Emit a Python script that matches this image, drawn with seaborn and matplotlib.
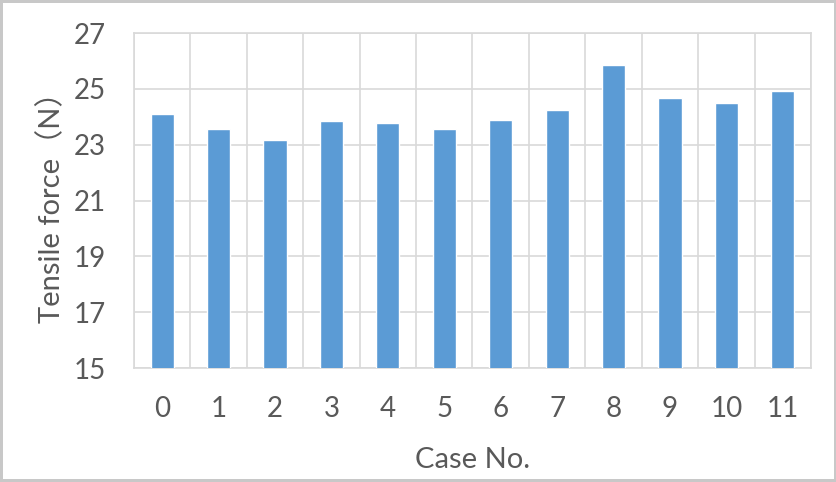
import seaborn as sns
import matplotlib.pyplot as plt
import pandas as pd
import numpy as np
from matplotlib.ticker import FixedLocator

# values
cases = [str(i) for i in range(12)]
force = [24.1, 23.56, 23.17, 23.85, 23.78, 23.57, 23.9, 24.24, 25.85, 24.68, 24.49, 24.92]
yticks = [15, 17, 19, 21, 23, 25, 27]

df = pd.DataFrame({"Case": cases, "Force": force})

sns.set_style("white")
plt.rcParams['font.family'] = ['Lato', 'Noto Sans CJK SC', 'DejaVu Sans']
txt = '#595959'
grid = '#d9d9d9'

fig = plt.figure(figsize=(8.37, 4.82), dpi=100, edgecolor='#c8c8c8', linewidth=3)
ax = fig.add_axes([0.160, 0.2365, 0.809, 0.695])

sns.barplot(x='Case', y='Force', data=df, color='#5b9bd5', width=0.41,
            saturation=1, ax=ax, zorder=3)

ax.set_ylim(15, 27)
ax.set_xlim(-0.5, len(cases) - 0.5)
ax.set_yticks(yticks)
ax.xaxis.set_minor_locator(FixedLocator(np.arange(-0.5, len(cases), 1)))
ax.grid(True, axis='y', which='major', color=grid, lw=1.2, zorder=0)
ax.grid(True, axis='x', which='minor', color=grid, lw=1.2, zorder=0)
ax.grid(False, axis='x', which='major')
ax.set_axisbelow(True)
for s in ax.spines.values():
    s.set_color(grid)
    s.set_linewidth(1.2)

ax.tick_params(axis='both', which='both', length=0, labelsize=20, labelcolor=txt)
ax.tick_params(axis='x', pad=20)
ax.tick_params(axis='y', pad=20)

ax.set_xlabel('Case No.', fontsize=21, color=txt, labelpad=18)
ax.set_ylabel('Tensile force（N）', fontsize=21, color=txt, labelpad=6)

fig.savefig('out.png', dpi=100, edgecolor=fig.get_edgecolor())
